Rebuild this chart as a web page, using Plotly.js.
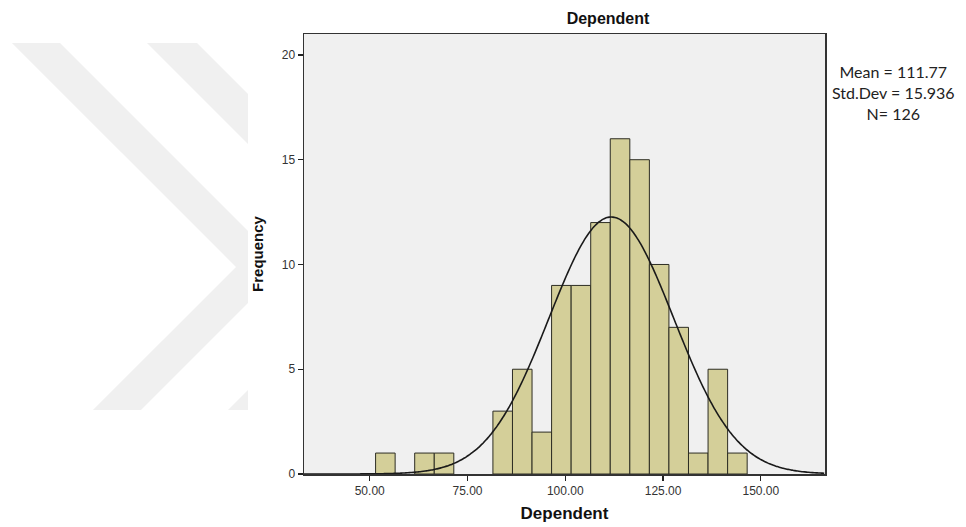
<!DOCTYPE html>
<html>
<head>
<meta charset="utf-8">
<script src="https://cdn.plot.ly/plotly-3.0.1.min.js"></script>
<style>
  html, body { margin: 0; padding: 0; background: #ffffff; }
  #chart { width: 966px; height: 527px; }
</style>
</head>
<body>
<div id="chart"></div>
<script>
// ---- data ----
const binStart = 51.5;
const binWidth = 5;
const counts = [1, 0, 1, 1, 0, 0, 3, 5, 2, 9, 9, 12, 16, 15, 10, 7, 1, 5, 1];
const statMean = 111.77;
const statSD = 15.936;
const statN = 126;
const xTickVals = [50, 75, 100, 125, 150];
const xTickText = ["50.00", "75.00", "100.00", "125.00", "150.00"];
const yTickVals = [0, 5, 10, 15, 20];
const xRange = [33.2, 166.4];
const yRange = [0, 21];

// ---- bars ----
const centers = counts.map((c, i) => binStart + binWidth * (i + 0.5));
const barY = counts.map(c => (c === 0 ? null : c));

// ---- fitted normal curve (SPSS style: scaled to histogram area) ----
const total = counts.reduce((a, b) => a + b, 0);
const scale = total * binWidth / (statSD * Math.sqrt(2 * Math.PI));
const cx = [], cy = [];
for (let x = xRange[0]; x <= xRange[1] + 1e-9; x += 0.5) {
  cx.push(x);
  cy.push(scale * Math.exp(-0.5 * Math.pow((x - statMean) / statSD, 2)));
}

// ---- layout geometry (pixels) ----
const W = 966, H = 527;
const M = { l: 304, r: 141, t: 34, b: 53 };
const PW = W - M.l - M.r, PH = H - M.t - M.b;
const fx = px => (px - M.l) / PW;
const fy = py => (H - M.b - py) / PH;

// watermark chevrons (decorative), clipped at x=248, y 43..410
function poly(pts) {
  return 'M' + pts.map(p => fx(p[0]).toFixed(4) + ',' + fy(p[1]).toFixed(4)).join(' L') + ' Z';
}
const wmColor = '#f0f0f0';
const chevron1 = poly([[12, 43], [60, 43], [248, 231], [248, 303], [141, 410], [93, 410], [236, 267]]);
const chevron2 = poly([[147, 43], [197, 43], [248, 94], [248, 144]]);
const chevron3 = poly([[248, 390], [248, 410], [228, 410]]);

const traces = [
  {
    type: 'bar',
    x: centers,
    y: barY,
    width: binWidth,
    marker: { color: 'rgb(212,207,153)', line: { color: 'rgb(45,45,35)', width: 1 } },
    hoverinfo: 'x+y'
  },
  {
    type: 'scatter',
    mode: 'lines',
    x: cx,
    y: cy,
    line: { color: '#1a1a1a', width: 1.6, shape: 'spline' },
    hoverinfo: 'skip'
  }
];

const layout = {
  width: W,
  height: H,
  margin: M,
  paper_bgcolor: '#ffffff',
  plot_bgcolor: '#f0f0f0',
  showlegend: false,
  bargap: 0,
  title: {
    text: '<b>Dependent</b>',
    font: { family: 'Liberation Sans, Arial, sans-serif', size: 16, color: '#111' },
    x: 608 / W, xanchor: 'center', xref: 'container',
    y: 1 - 18 / H, yanchor: 'middle', yref: 'container'
  },
  xaxis: {
    range: xRange,
    tickvals: xTickVals,
    ticktext: xTickText,
    ticks: 'outside', ticklen: 5, tickwidth: 1.2, tickcolor: '#222',
    tickfont: { family: 'Liberation Sans, Arial, sans-serif', size: 12, color: '#333' },
    showgrid: false, zeroline: false,
    showline: true, linecolor: '#333', linewidth: 1.5, mirror: true,
    title: {
      text: '<b>Dependent</b>',
      font: { family: 'Liberation Sans, Arial, sans-serif', size: 17, color: '#111' },
      standoff: 10
    }
  },
  yaxis: {
    range: yRange,
    tickvals: yTickVals,
    ticks: 'outside', ticklen: 5, tickwidth: 1.2, tickcolor: '#222',
    tickfont: { family: 'Liberation Sans, Arial, sans-serif', size: 12, color: '#333' },
    showgrid: false, zeroline: false,
    showline: true, linecolor: '#333', linewidth: 1.5, mirror: true,
    title: {
      text: '<b>Frequency</b>',
      font: { family: 'Liberation Sans, Arial, sans-serif', size: 15, color: '#111' },
      standoff: 14
    }
  },
  shapes: [chevron1, chevron2, chevron3].map(p => ({
    type: 'path', xref: 'paper', yref: 'paper', path: p,
    fillcolor: wmColor, line: { width: 0 }, layer: 'below'
  })),
  annotations: [
    {
      xref: 'paper', yref: 'paper',
      x: fx(893), y: fy(92), xanchor: 'center', yanchor: 'middle',
      text: 'Mean = ' + statMean.toFixed(2) + '<br>Std.Dev = ' + statSD.toFixed(3) + '<br>N= ' + statN,
      showarrow: false, align: 'center',
      font: { family: 'Lato, Open Sans, sans-serif', size: 16, color: '#222' }
    }
  ]
};

Plotly.newPlot('chart', traces, layout, { displayModeBar: false, staticPlot: true });
</script>
</body>
</html>
